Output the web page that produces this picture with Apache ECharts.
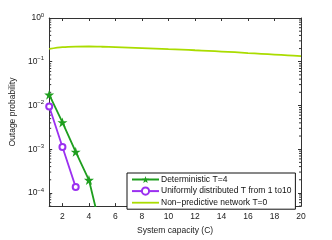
<!DOCTYPE html>
<html><head><meta charset="utf-8">
<script src="https://cdn.jsdelivr.net/npm/echarts@6/dist/echarts.min.js"></script>
<style>html,body{margin:0;padding:0;background:#fff}#c{width:332px;height:240px}</style>
</head><body><div id="c"></div>
<script>
const capacity = [1,2,3,4,5,6,7,8,9,10,11,12,13,14,15,16,17,18,19,20];
const detX = [1,2,3,4,5];
const detY = [0.0176, 0.0041, 0.00087, 0.000197, 0.000011];
const uniX = [1,2,3];
const uniY = [0.0095, 0.00112, 0.000136];
const nonPredY = [0.196,0.215,0.222,0.223,0.220,0.215,0.210,0.205,0.200,0.195,0.190,0.183,0.177,0.171,0.165,0.158,0.152,0.146,0.140,0.134];
const xTicks = [2,4,6,8,10,12,14,16,18,20];
const minorY = [];
for (let e = -5; e < 0; e++) for (let m = 2; m <= 9; m++) { const v = m * Math.pow(10, e); if (v >= 5e-5) minorY.push(v); }

const names = ['Deterministic T=4', 'Uniformly distributed T from 1 to10', 'Non\u2212predictive network T=0'];
const cGreen = '#1e9e1e', cPurple = '#9b30f0', cYellow = '#aadc00';
const star = 'path://M50,0 L61.8,35.3 L99,35.3 L69,57.3 L80.4,92.7 L50,70.7 L19.6,92.7 L31,57.3 L1,35.3 L38.2,35.3 Z';
const axisColor = '#333';
const font = 'Liberation Sans, Arial, sans-serif';
const fs = 8.5;

function yLabel(v) {
  const e = Math.round(Math.log10(v));
  if (Math.abs(Math.log10(v) - e) > 1e-6) return '';
  return '{b|10}{s|' + (e < 0 ? '\u2212' + (-e) : e) + '}';
}

const chart = echarts.init(document.getElementById('c'), null, {renderer: 'canvas'});
chart.setOption({
  animation: false,
  backgroundColor: '#fff',
  textStyle: {fontFamily: font},
  grid: {left: 43, right: 31, top: 18, bottom: 27},
  xAxis: [{
    type: 'value', min: 1, max: 20,
    name: 'System capacity (C)', nameLocation: 'middle', nameGap: 16,
    nameTextStyle: {fontSize: fs, color: '#222', fontFamily: font},
    axisLine: {show: true, lineStyle: {color: axisColor, width: 1}},
    axisTick: {show: true, inside: true, length: 3, customValues: xTicks, lineStyle: {color: axisColor}},
    axisLabel: {fontSize: fs, color: '#222', margin: 6, customValues: xTicks, fontFamily: font},
    splitLine: {show: false}
  }, {
    type: 'value', min: 1, max: 20, position: 'top',
    axisLine: {show: true, lineStyle: {color: axisColor, width: 1}},
    axisTick: {show: true, inside: true, length: 3, customValues: xTicks, lineStyle: {color: axisColor}},
    axisLabel: {show: false}, splitLine: {show: false}
  }],
  yAxis: [{
    type: 'log', min: 5e-5, max: 1, logBase: 10,
    name: 'Outage probability', nameLocation: 'middle', nameGap: 28, nameRotate: 90,
    nameTextStyle: {fontSize: fs, color: '#222', fontFamily: font},
    axisLine: {show: true, lineStyle: {color: axisColor, width: 1}},
    axisTick: {show: true, inside: true, length: 3, lineStyle: {color: axisColor}},
    axisLabel: {
      color: '#222', margin: 5, formatter: yLabel,
      rich: {b: {fontSize: fs, fontFamily: font, color: '#222'}, s: {fontSize: 6, fontFamily: font, color: '#222', padding: [0,0,6,0]}}
    },
    splitLine: {show: false}
  }, {
    type: 'log', min: 5e-5, max: 1, logBase: 10, position: 'right',
    axisLine: {show: true, lineStyle: {color: axisColor, width: 1}},
    axisTick: {show: true, inside: true, length: 3, lineStyle: {color: axisColor}},
    axisLabel: {show: false}, splitLine: {show: false}
  }],
  legend: {
    orient: 'vertical', left: 127, top: 173,
    backgroundColor: '#fff', borderColor: '#111', borderWidth: 1,
    padding: [2, 4, 2, 4], itemGap: 2.5, itemWidth: 27, itemHeight: 9,
    textStyle: {fontSize: fs, color: '#111', fontFamily: font, padding: [0,0,0,-3]},
    data: [names[0], names[1], {name: names[2], icon: 'path://M0,0 L27,0 L27,1.8 L0,1.8 Z', itemStyle: {color: cYellow}}]
  },
  series: [{
    name: 'minor', type: 'custom', xAxisIndex: 0, yAxisIndex: 0, silent: true,
    data: minorY.map(v => [1, v]),
    renderItem: function (params, api) {
      const p = api.coord([1, api.value(1)]);
      const q = api.coord([20, api.value(1)]);
      return {type: 'group', children: [
        {type: 'line', shape: {x1: p[0], y1: p[1], x2: p[0] + 2, y2: p[1]}, style: {stroke: axisColor, lineWidth: 1}},
        {type: 'line', shape: {x1: q[0] - 2, y1: q[1], x2: q[0], y2: q[1]}, style: {stroke: axisColor, lineWidth: 1}}
      ]};
    }
  }, {
    name: names[0], type: 'line', data: detX.map((x, i) => [x, detY[i]]),
    symbol: star, symbolSize: 10, clip: true,
    lineStyle: {color: cGreen, width: 1.8}, itemStyle: {color: cGreen}
  }, {
    name: names[1], type: 'line', data: uniX.map((x, i) => [x, uniY[i]]),
    symbol: 'emptyCircle', symbolSize: 6, clip: true,
    lineStyle: {color: cPurple, width: 1.8}, itemStyle: {color: cPurple, borderWidth: 1.5}
  }, {
    name: names[2], type: 'line', data: capacity.map((x, i) => [x, nonPredY[i]]),
    symbol: 'none', showSymbol: false, smooth: 0.3,
    lineStyle: {color: cYellow, width: 1.8}, itemStyle: {color: cYellow}
  }]
});
</script></body></html>
